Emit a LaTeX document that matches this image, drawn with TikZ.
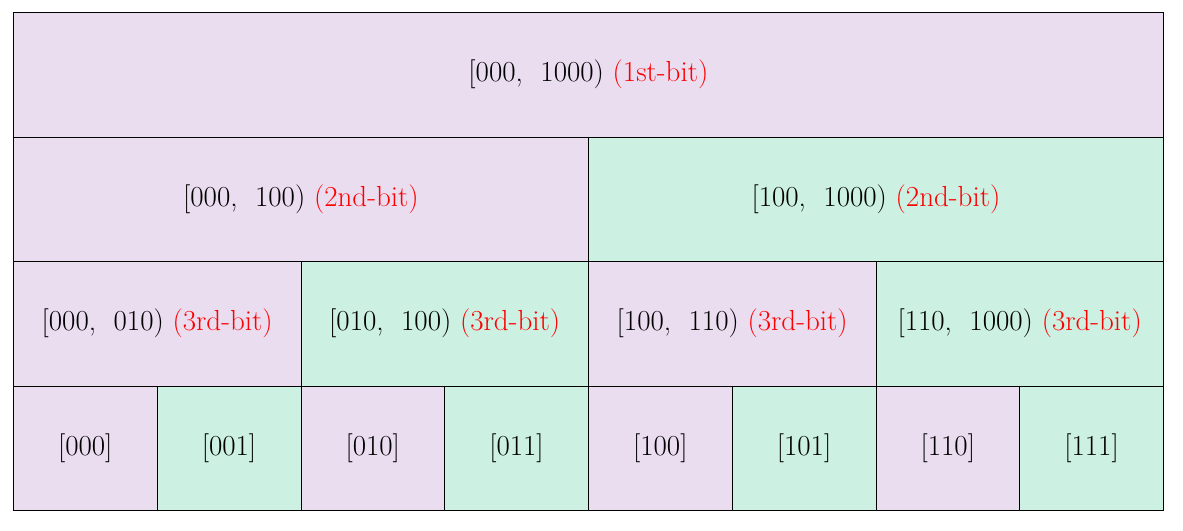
\documentclass[tikz,border=0pt]{standalone}
\usepackage{xcolor}
\definecolor{cpur}{RGB}{235,221,240}
\definecolor{cgrn}{RGB}{204,240,226}
\definecolor{cred}{RGB}{255,0,0}
\begin{document}
\begin{tikzpicture}[x=1pt,y=-1pt,
  cell/.style={draw=black,line width=0.8pt,rectangle,inner sep=0pt,anchor=north west,
    minimum height=124.5pt,font=\fontsize{29}{34}\selectfont},
  pur/.style={cell,fill=cpur},
  grn/.style={cell,fill=cgrn}]
\useasboundingbox (0,0) rectangle (1183,530);
% row 1
\node[pur,minimum width=1150pt] (r1) at (13,12) {[000,\ \ 1000) \textcolor{cred}{(1st-bit)}};
% row 2
\node[pur,minimum width=575pt] (r2a) at (13,136.5) {[000,\ \ 100) \textcolor{cred}{(2nd-bit)}};
\node[grn,minimum width=575pt] (r2b) at (588,136.5) {[100,\ \ 1000) \textcolor{cred}{(2nd-bit)}};
% row 3
\node[pur,minimum width=287.5pt] (r3a) at (13,261) {[000,\ \ 010) \textcolor{cred}{(3rd-bit)}};
\node[grn,minimum width=287.5pt] (r3b) at (300.5,261) {[010,\ \ 100) \textcolor{cred}{(3rd-bit)}};
\node[pur,minimum width=287.5pt] (r3c) at (588,261) {[100,\ \ 110) \textcolor{cred}{(3rd-bit)}};
\node[grn,minimum width=287.5pt] (r3d) at (875.5,261) {[110,\ \ 1000) \textcolor{cred}{(3rd-bit)}};
% row 4
\node[pur,minimum width=143.75pt] (c0) at (13,385.5) {[000]};
\node[grn,minimum width=143.75pt] (c1) at (156.75,385.5) {[001]};
\node[pur,minimum width=143.75pt] (c2) at (300.5,385.5) {[010]};
\node[grn,minimum width=143.75pt] (c3) at (444.25,385.5) {[011]};
\node[pur,minimum width=143.75pt] (c4) at (588,385.5) {[100]};
\node[grn,minimum width=143.75pt] (c5) at (731.75,385.5) {[101]};
\node[pur,minimum width=143.75pt] (c6) at (875.5,385.5) {[110]};
\node[grn,minimum width=143.75pt] (c7) at (1019.25,385.5) {[111]};
\end{tikzpicture}
\end{document}
